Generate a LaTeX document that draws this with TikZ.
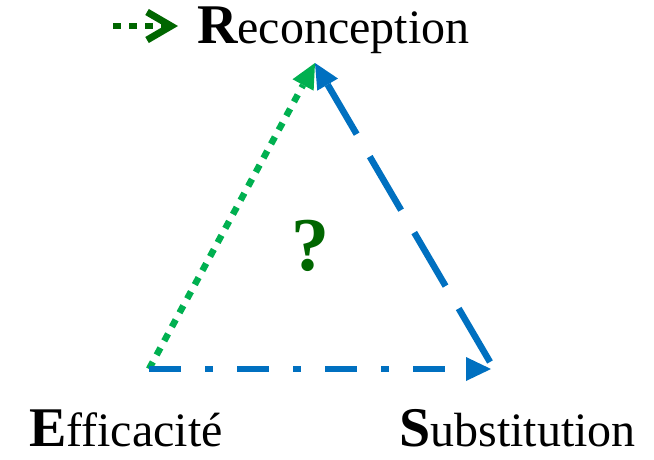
\documentclass[tikz,border=0pt]{standalone}
\usepackage{fontspec}
\setmainfont{Liberation Serif}
\usetikzlibrary{arrows.meta}

\definecolor{officeblue}{RGB}{0,112,192}
\definecolor{officegreen}{RGB}{0,176,80}
\definecolor{darkgreen}{RGB}{0,102,0}

\newcommand{\initial}[1]{{\fontsize{56}{56}\selectfont\bfseries #1}}

\begin{document}
\begin{tikzpicture}[x=1pt,y=-1pt,
        >={Triangle[length=25pt,width=24pt,line width=0pt]},
        word/.style={anchor=base west,inner sep=0pt,font=\fontsize{48}{48}\selectfont},
        dotted line/.style={line width=6.5pt,dash pattern=on 8pt off 8pt},
        dashdot line/.style={line width=6.5pt,dash pattern=on 32pt off 24pt on 8pt off 24pt},
        longdash line/.style={line width=6.5pt,dash pattern=on 62pt off 26pt}]

        \useasboundingbox (0,0) rectangle (654,459);

        % corners of the triangle
        \coordinate (E) at (149,369);
        \coordinate (S) at (491,369);
        \coordinate (S') at (490,362);
        \coordinate (R) at (315,63);

        % labels
        \node[word] (reco) at (197,43) {\initial{R}econception};
        \node[word] (effi) at (29,446) {\initial{E}fficacité};
        \node[word] (subs) at (399,446) {\initial{S}ubstitution};
        \node[darkgreen,inner sep=0pt,font=\fontsize{76}{76}\selectfont\bfseries] (q) at (310,246) {?};

        % legend arrow
        \coordinate (leg) at (113,26);
        \coordinate (legtip) at (178,26);
        \draw[darkgreen,dotted line,-{Straight Barb[length=24pt,width=28pt,line width=7pt]}]
            (leg) -- (legtip);

        \draw[officegreen,dotted line,->] (E) -- (R);
        \draw[officeblue,dashdot line,->] (E) -- (S);
        \draw[officeblue,longdash line,->] (S') -- (R);

\end{tikzpicture}
\end{document}
